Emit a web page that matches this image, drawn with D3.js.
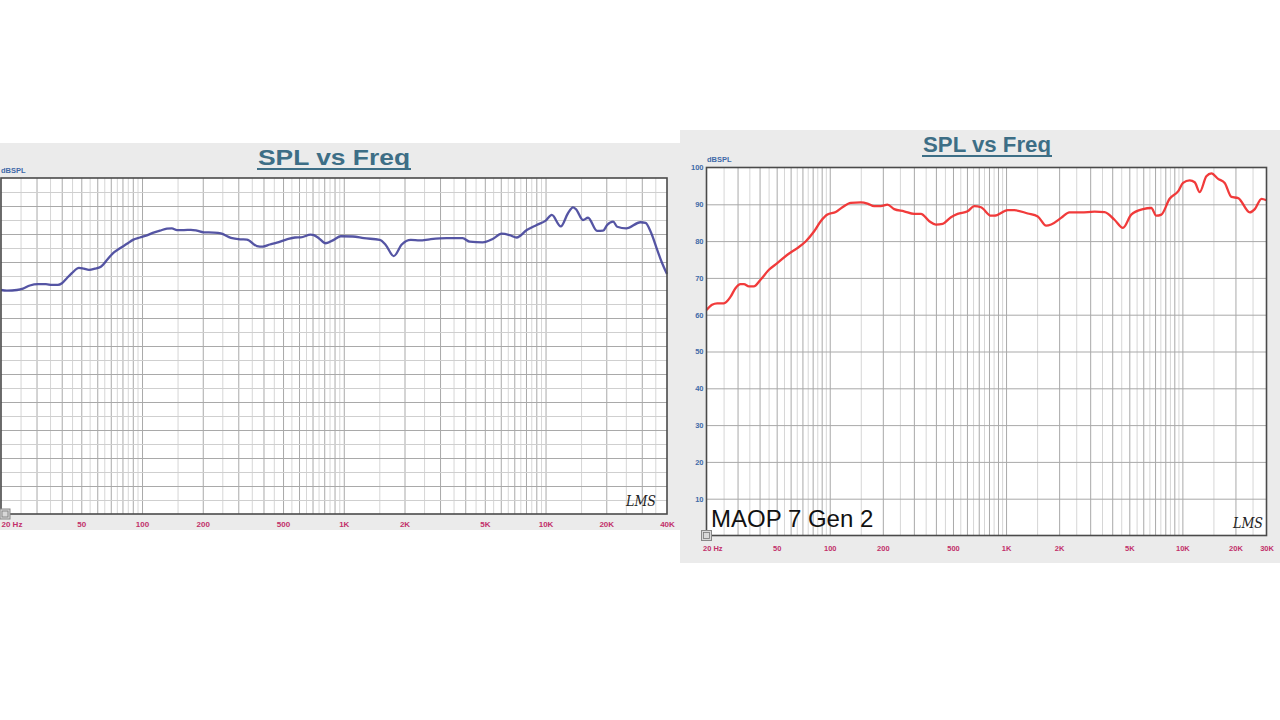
<!DOCTYPE html>
<html>
<head>
<meta charset="utf-8">
<script src="https://cdn.jsdelivr.net/npm/d3@7"></script>
<style>
  html, body { margin: 0; padding: 0; background: #ffffff; }
  svg { display: block; }
</style>
</head>
<body>
<svg id="chart" width="1280" height="720"></svg>
<script>
// ---------------- DATA ----------------
// Left chart (blue curve)
const leftFreq = [20, 21.4, 24, 25.7, 27.8, 30.5, 33.4, 35.8, 38.3, 40.1, 42.4, 44.9, 48.7, 51.5, 54.6, 58.4,
  62.5, 67, 71.7, 77.7, 84.2, 90.1, 97.6, 105.7, 113, 122.6, 132.8, 140.6, 149, 161.4, 174.8, 187,
  202, 227, 246, 276, 306, 331, 371, 397, 430, 466, 522, 573, 612, 686, 710, 752, 814, 892, 966,
  1108, 1258, 1508, 1614, 1768, 1938, 2148, 2378, 2664, 3232, 3884, 4210, 4880, 5468, 6060, 6640,
  7200, 8070, 9040, 10020, 10740, 11900, 12920, 13680, 14140, 15330, 16240, 18000, 19300, 20200,
  21640, 22660, 25140, 29560, 31320, 33160, 35960, 37640, 40000];
const leftSpl = [80.0, 79.75, 80.0, 80.5, 81.6, 82.1, 82.1, 81.8, 81.8, 82.4, 84.2, 86.0, 87.9, 87.6, 87.2, 87.6,
  88.3, 90.7, 93.1, 94.9, 96.5, 97.9, 98.75, 99.5, 100.4, 101.2, 101.9, 102.0, 101.4, 101.4, 101.5, 101.2,
  100.6, 100.5, 100.2, 98.6, 98.1, 98.0, 95.7, 95.5, 96.25, 96.9, 98.1, 98.75, 98.8, 99.8, 99.6, 98.5, 96.7, 97.9, 99.2,
  99.1, 98.5, 97.9, 96.1, 92.1, 96.25, 97.9, 97.7, 98.1, 98.5, 98.5, 97.25, 97.0, 98.2, 100.1, 99.6,
  98.75, 101.4, 103.2, 104.8, 106.8, 102.7, 107.4, 109.5, 108.9, 105.0, 105.8, 101.1, 101.2, 103.2,
  104.4, 102.6, 102.0, 104.2, 104.0, 100.9, 93.9, 90.0, 85.7];

// Right chart (red curve) "MAOP 7 Gen 2"
const rightFreq = [20, 21.5, 23, 25.1, 27.4, 29.2, 31.2, 32.6, 34.8, 37.1, 40.5, 45.2, 50.4, 57.5, 65.5, 73,
  81.4, 88.9, 97, 108.2, 118, 131.6, 150, 163.8, 178.5, 194.8, 212.6, 232, 264, 301, 329, 367, 400,
  437, 487, 531, 605, 661, 721, 822, 858, 1022, 1114, 1327, 1513, 1688, 1802, 2052, 2288, 2668,
  3174, 3618, 4122, 4602, 5128, 5980, 6664, 7112, 7594, 8466, 9450, 10088, 11000, 11748, 12532,
  13680, 14612, 15950, 17380, 18972, 20716, 24120, 25750, 28100, 30000];
const rightSpl = [61.3, 62.7, 63.1, 63.1, 64.9, 67.2, 68.3, 68.3, 67.7, 67.7, 69.5, 72.2, 74.0, 76.3, 78.1, 79.9,
  82.6, 85.4, 87.2, 87.9, 89.2, 90.4, 90.5, 90.2, 89.5, 89.5, 89.9, 88.7, 88.1, 87.4, 87.4, 85.4, 84.5,
  84.7, 86.5, 87.4, 88.1, 89.5, 89.2, 86.9, 86.9, 88.4, 88.4, 87.5, 86.7, 84.2, 84.5, 86.3, 87.8, 87.8,
  88.0, 87.9, 85.8, 83.6, 87.2, 88.7, 89.0, 86.9, 87.2, 91.5, 93.5, 95.8, 96.5, 96.0, 93.3,
  97.6, 98.4, 96.9, 95.8, 92.0, 91.7, 87.8, 88.7, 91.5, 91.1];

// Tick labels
const leftXTicks = [20, 50, 100, 200, 500, 1000, 2000, 5000, 10000, 20000, 40000];
const leftXLabels = ["20 Hz", "50", "100", "200", "500", "1K", "2K", "5K", "10K", "20K", "40K"];
const rightXTicks = [20, 50, 100, 200, 500, 1000, 2000, 5000, 10000, 20000, 30000];
const rightXLabels = ["20 Hz", "50", "100", "200", "500", "1K", "2K", "5K", "10K", "20K", "30K"];
const rightYTicks = [10, 20, 30, 40, 50, 60, 70, 80, 90, 100];

const titleText = "SPL vs Freq";
const yUnitText = "dBSPL";
const deviceName = "MAOP 7 Gen 2";

// ---------------- DRAW ----------------
const svg = d3.select("#chart");

function drawChart(cfg) {
  const g = svg.append("g");
  g.append("rect").attr("x", cfg.panel[0]).attr("y", cfg.panel[1])
    .attr("width", cfg.panel[2]).attr("height", cfg.panel[3]).attr("fill", "#ebebeb");

  const x = d3.scaleLog().domain(cfg.xDomain).range([cfg.plot.x0, cfg.plot.x1]);
  const y = d3.scaleLinear().domain(cfg.yDomain).range([cfg.plot.y1, cfg.plot.y0]);

  g.append("rect").attr("x", cfg.plot.x0).attr("y", cfg.plot.y0)
    .attr("width", cfg.plot.x1 - cfg.plot.x0).attr("height", cfg.plot.y1 - cfg.plot.y0)
    .attr("fill", "#ffffff");

  // vertical grid: every half-step of each decade
  const minorV = [], majorV = [];
  [10, 100, 1000, 10000].forEach(d => {
    for (let m = 1; m < 10; m += 0.5) {
      const f = m * d;
      if (f > cfg.xDomain[0] && f < cfg.xDomain[1]) {
        (Number.isInteger(m) ? majorV : minorV).push(f);
      }
    }
  });
  const gridG = g.append("g");
  const h = cfg.plot.y1 - cfg.plot.y0, w = cfg.plot.x1 - cfg.plot.x0;
  gridG.append("g").attr("transform", `translate(0,${cfg.plot.y1})`)
    .call(d3.axisBottom(x).tickValues(minorV).tickSize(-h).tickFormat(""))
    .call(s => s.select(".domain").remove())
    .selectAll("line").attr("stroke", "#d6d6d6").attr("stroke-width", 1);
  gridG.append("g").attr("transform", `translate(0,${cfg.plot.y1})`)
    .call(d3.axisBottom(x).tickValues(majorV).tickSize(-h).tickFormat(""))
    .call(s => s.select(".domain").remove())
    .selectAll("line").attr("stroke", "#a9a9a9").attr("stroke-width", 1);

  // horizontal grid
  const hMinorVals = d3.range(cfg.yDomain[0] + cfg.yMinor, cfg.yDomain[1], cfg.yMinor)
    .filter(v => Math.abs(v % cfg.yMajor) > 1e-6);
  const hMajorVals = d3.range(cfg.yDomain[0] + cfg.yMajor, cfg.yDomain[1], cfg.yMajor);
  if (hMinorVals.length) {
    gridG.append("g").attr("transform", `translate(${cfg.plot.x0},0)`)
      .call(d3.axisLeft(y).tickValues(hMinorVals).tickSize(-w).tickFormat(""))
      .call(s => s.select(".domain").remove())
      .selectAll("line").attr("stroke", "#cfcfcf").attr("stroke-width", 1);
  }
  gridG.append("g").attr("transform", `translate(${cfg.plot.x0},0)`)
    .call(d3.axisLeft(y).tickValues(hMajorVals).tickSize(-w).tickFormat(""))
    .call(s => s.select(".domain").remove())
    .selectAll("line").attr("stroke", "#a9a9a9").attr("stroke-width", 1);

  // curve
  const pts = cfg.freq.map((f, i) => [f, cfg.spl[i]]);
  const line = d3.line().x(d => x(d[0])).y(d => y(d[1])).curve(d3.curveMonotoneX);
  g.append("path").datum(pts).attr("d", line).attr("fill", "none")
    .attr("stroke", cfg.color).attr("stroke-width", 2.3).attr("stroke-linejoin", "round")
    .attr("opacity", 0.92);

  // plot border
  g.append("rect").attr("x", cfg.plot.x0).attr("y", cfg.plot.y0)
    .attr("width", w).attr("height", h)
    .attr("fill", "none").attr("stroke", "#4a4a4a").attr("stroke-width", 1.6);

  // x tick labels
  const xg = g.append("g").attr("transform", `translate(0,${cfg.plot.y1 + cfg.xLabelDy})`)
    .call(d3.axisBottom(x).tickValues(cfg.xTicks).tickSize(0).tickFormat((d, i) => cfg.xLabels[i]));
  xg.select(".domain").remove();
  xg.selectAll("text").attr("fill", "#c2306a").attr("font-family", "Liberation Sans, Arial, sans-serif")
    .attr("font-size", cfg.tickFont).attr("font-weight", "bold").attr("dy", "0")
    .attr("text-anchor", (d, i) => i === 0 ? "start" : "middle")
    .attr("x", (d, i) => i === 0 ? cfg.firstLabelDx : 0);

  // y tick labels
  if (cfg.yTicks) {
    const yg = g.append("g").attr("transform", `translate(${cfg.plot.x0},0)`)
      .call(d3.axisLeft(y).tickValues(cfg.yTicks).tickSize(0).tickPadding(3));
    yg.select(".domain").remove();
    yg.selectAll("text").attr("fill", "#3f6aa8").attr("font-family", "Liberation Sans, Arial, sans-serif")
      .attr("font-size", cfg.tickFont).attr("font-weight", "bold");
  }

  // unit label
  g.append("text").attr("x", cfg.unitPos[0]).attr("y", cfg.unitPos[1])
    .attr("fill", "#3f6aa8").attr("font-family", "Liberation Sans, Arial, sans-serif")
    .attr("font-size", 7.5).attr("font-weight", "bold").text(yUnitText);

  // title with underline
  g.append("text").attr("x", cfg.titlePos[0]).attr("y", cfg.titlePos[1])
    .attr("text-anchor", "middle").attr("fill", "#3d6e86")
    .attr("font-family", "Liberation Sans, Arial, sans-serif").attr("font-weight", "bold")
    .attr("font-size", 22).attr("textLength", cfg.titleWidth).attr("lengthAdjust", "spacingAndGlyphs")
    .text(titleText);
  g.append("line").attr("x1", cfg.titlePos[0] - cfg.titleWidth / 2 - 1)
    .attr("x2", cfg.titlePos[0] + cfg.titleWidth / 2 + 1)
    .attr("y1", cfg.titlePos[1] + 4).attr("y2", cfg.titlePos[1] + 4)
    .attr("stroke", "#3d6e86").attr("stroke-width", 2);

  // LMS signature
  g.append("text").attr("x", cfg.lmsPos[0]).attr("y", cfg.lmsPos[1])
    .attr("font-family", "DejaVu Serif, serif").attr("font-style", "italic")
    .attr("font-size", 15).attr("fill", "#222")
    .attr("textLength", 30).attr("lengthAdjust", "spacingAndGlyphs").text("LMS");

  // small corner icon
  g.append("rect").attr("x", Math.max(0, cfg.plot.x0 - 5)).attr("y", cfg.plot.y1 - 5)
    .attr("width", 10).attr("height", 10).attr("fill", "#d8d8d8")
    .attr("stroke", "#888").attr("stroke-width", 1);
  g.append("rect").attr("x", Math.max(2, cfg.plot.x0 - 3)).attr("y", cfg.plot.y1 - 3)
    .attr("width", 6).attr("height", 6).attr("fill", "none")
    .attr("stroke", "#777").attr("stroke-width", 0.8);

  return { x, y, g };
}

drawChart({
  panel: [0, 143, 680, 387],
  plot: { x0: 1, x1: 667, y0: 178, y1: 514 },
  xDomain: [20, 40000], yDomain: [0, 120], yMinor: 5, yMajor: 10,
  freq: leftFreq, spl: leftSpl, color: "#46469c",
  xTicks: leftXTicks, xLabels: leftXLabels, xLabelDy: 10, tickFont: 8, firstLabelDx: 0,
  yTicks: null,
  unitPos: [1, 173],
  titlePos: [334, 165], titleWidth: 152,
  lmsPos: [626, 506]
});

const right = drawChart({
  panel: [680, 130, 600, 433],
  plot: { x0: 706.5, x1: 1266.5, y0: 167.5, y1: 535.5 },
  xDomain: [20, 30000], yDomain: [0, 100], yMinor: 10, yMajor: 10,
  freq: rightFreq, spl: rightSpl, color: "#f02a2a",
  xTicks: rightXTicks, xLabels: rightXLabels, xLabelDy: 12, tickFont: 7.5, firstLabelDx: -4,
  yTicks: rightYTicks,
  unitPos: [707, 162],
  titlePos: [987, 152], titleWidth: 128,
  lmsPos: [1233, 528]
});

right.g.append("text").attr("x", 711).attr("y", 527)
  .attr("font-family", "Liberation Sans, Arial, sans-serif").attr("font-size", 24)
  .attr("fill", "#111").text(deviceName);
</script>
</body>
</html>
